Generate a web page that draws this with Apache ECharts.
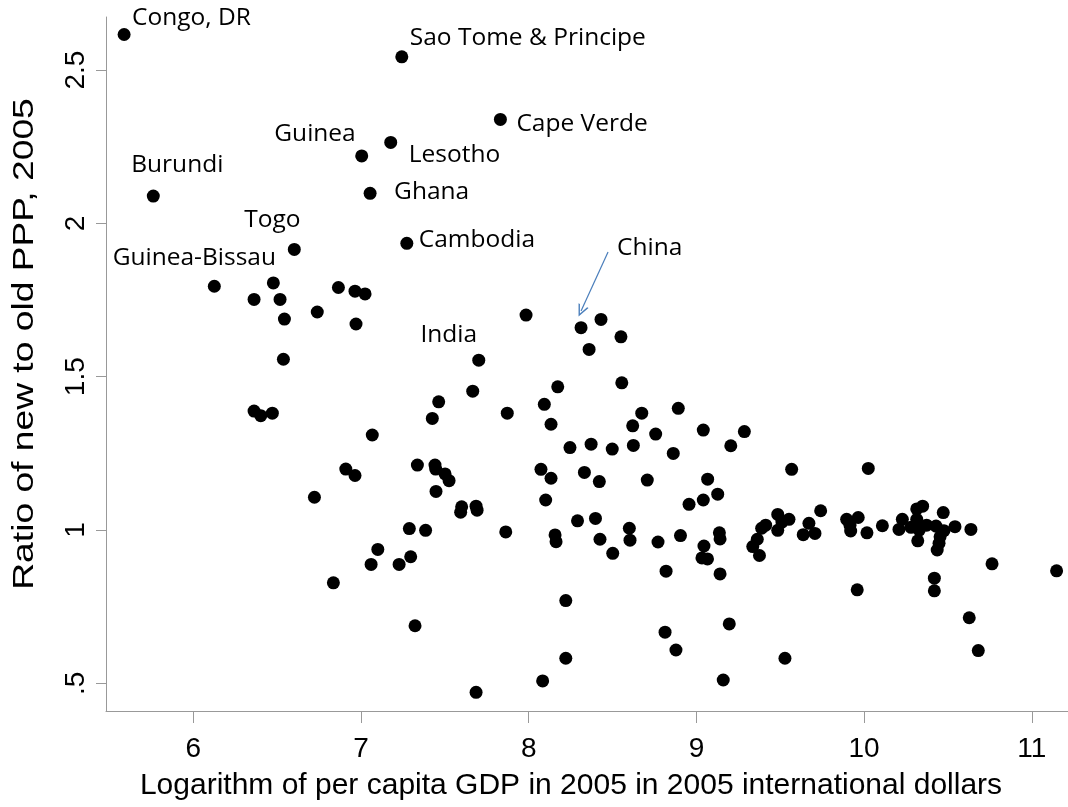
<!DOCTYPE html>
<html>
<head>
<meta charset="utf-8">
<script src="https://cdn.jsdelivr.net/npm/echarts@6/dist/echarts.min.js"></script>
<style>
	html, body { margin: 0; padding: 0; background: #fff; }
	#chart { width: 1068px; height: 807px; }
</style>
</head>
<body>
<div id="chart"></div>
<script>
// unlabeled countries: log GDP per capita (x) and new/old PPP ratio (y)
var gdpLog = [6.362, 6.402, 6.362, 6.471, 6.477, 6.517, 6.543, 6.537, 6.739, 6.722, 6.835, 6.865, 6.909, 6.964, 6.970, 6.964, 7.024, 7.067, 7.060, 7.100, 7.227, 7.288, 7.296, 7.322, 7.336, 7.385, 7.425, 7.441, 7.445, 7.447, 7.463, 7.501, 7.525, 7.600, 7.594, 7.666, 7.686, 7.692, 7.686, 7.863, 7.872, 7.984, 8.073, 8.083, 8.093, 8.101, 8.133, 8.133, 8.157, 8.163, 8.173, 8.221, 8.221, 8.246, 8.291, 8.332, 8.360, 8.372, 8.398, 8.421, 8.425, 8.431, 8.498, 8.501, 8.550, 8.555, 8.600, 8.604, 8.620, 8.624, 8.674, 8.707, 8.757, 8.771, 8.813, 8.819, 8.862, 8.878, 8.892, 8.905, 8.956, 9.041, 9.041, 9.045, 9.033, 9.066, 9.067, 9.127, 9.137, 9.141, 9.141, 9.160, 9.196, 9.205, 9.286, 9.336, 9.363, 9.376, 9.389, 9.413, 9.485, 9.485, 9.510, 9.528, 9.552, 9.568, 9.637, 9.671, 9.707, 9.741, 9.896, 9.916, 9.920, 9.959, 9.965, 10.017, 10.025, 10.109, 10.208, 10.228, 10.280, 10.314, 10.349, 10.314, 10.329, 10.320, 10.373, 10.429, 10.472, 10.476, 10.453, 10.447, 10.436, 10.419, 10.419, 10.542, 10.627, 10.637, 10.681, 10.763, 11.148];
var pppRatio = [1.752, 1.373, 1.388, 1.381, 1.806, 1.752, 1.688, 1.557, 1.711, 1.107, 0.828, 1.791, 1.199, 1.779, 1.672, 1.178, 1.770, 1.310, 0.888, 0.937, 0.888, 1.005, 0.913, 0.688, 1.212, 0.999, 1.364, 1.212, 1.199, 1.126, 1.418, 1.183, 1.161, 1.076, 1.058, 1.453, 1.078, 1.065, 0.471, 0.994, 1.381, 1.701, 1.198, 0.508, 1.410, 1.098, 1.345, 1.169, 0.984, 0.962, 1.467, 0.770, 0.582, 1.269, 1.030, 1.188, 1.589, 1.280, 1.038, 1.158, 0.970, 1.687, 1.264, 0.924, 1.630, 1.480, 1.006, 0.967, 1.340, 1.276, 1.381, 1.163, 1.313, 0.961, 0.667, 0.866, 1.250, 0.609, 1.397, 0.982, 1.084, 1.326, 1.098, 0.948, 0.909, 0.906, 1.166, 1.117, 0.991, 0.971, 0.857, 0.511, 0.694, 1.275, 1.321, 0.946, 0.970, 0.917, 1.006, 1.016, 1.051, 0.999, 1.026, 0.582, 1.035, 1.198, 0.985, 1.022, 0.989, 1.063, 1.035, 1.016, 0.997, 0.805, 1.041, 0.991, 1.201, 1.014, 1.002, 1.035, 1.009, 1.069, 1.078, 1.035, 1.000, 0.965, 1.016, 1.013, 1.057, 0.998, 0.978, 0.957, 0.935, 0.843, 0.802, 1.011, 0.714, 1.002, 0.607, 0.890, 0.867];

// labeled countries
var labelNames = ["Congo, DR", "Burundi", "Guinea-Bissau", "Togo", "Guinea", "Ghana", "Lesotho", "Sao Tome & Principe", "Cambodia", "India", "Cape Verde", "China"];
var labelGdp = [5.587, 5.761, 6.125, 6.602, 7.004, 7.054, 7.177, 7.243, 7.273, 7.702, 7.831, 8.312];
var labelRatio = [2.616, 2.089, 1.795, 1.915, 2.220, 2.098, 2.264, 2.543, 1.935, 1.554, 2.339, 1.660];

// arrow pointing at China (data coords)
var chinaArrow = [[8.473, 1.907], [8.312, 1.714]];

var xTicks = [6, 7, 8, 9, 10, 11];
var yTicks = [0.5, 1, 1.5, 2, 2.5];

var yTitle = "Ratio of new to old PPP, 2005";
var xTitle = "Logarithm of per capita GDP in 2005 in 2005 international dollars";

// where each label sits relative to its dot
var labelPlace = {
	"Congo, DR": { align: "left", offset: [8, -16] },
	"Sao Tome & Principe": { align: "left", offset: [8, -19] },
	"Cape Verde": { align: "left", offset: [16, 5] },
	"Lesotho": { align: "left", offset: [18, 13] },
	"Guinea": { align: "right", offset: [-6, -22] },
	"Ghana": { align: "left", offset: [24, -1] },
	"Cambodia": { align: "left", offset: [12, -3] },
	"Burundi": { align: "center", offset: [24, -31] },
	"Togo": { align: "center", offset: [-22, -29] },
	"Guinea-Bissau": { align: "center", offset: [-20, -28] },
	"India": { align: "center", offset: [-30, -25] },
	"China": { align: "left", offset: [36, -80] }
};

var chart = echarts.init(document.getElementById("chart"));

var points = [];
for (var i = 0; i < gdpLog.length; i++) {
	points.push([gdpLog[i], pppRatio[i]]);
}

var named = [];
for (var j = 0; j < labelNames.length; j++) {
	var place = labelPlace[labelNames[j]];
	named.push({
		name: labelNames[j],
		value: [labelGdp[j], labelRatio[j]],
		label: {
			show: true,
			position: "inside",
			formatter: "{b}",
			align: place.align,
			verticalAlign: "middle",
			offset: place.offset
		}
	});
}

var axisFont = "'Liberation Sans', Arial, sans-serif";

var option = {
	animation: false,
	backgroundColor: "#fff",
	grid: {
		left: 106,
		right: 0,
		top: 17,
		bottom: 96,
		containLabel: false
	},
	// y title is drawn stretched along its length, like the original
	graphic: [
		{
			type: "text",
			x: 25,
			y: 344,
			rotation: Math.PI / 2,
			scaleX: 1.24,
			style: {
				text: yTitle,
				font: "30px 'Liberation Sans', Arial, sans-serif",
				fill: "#000",
				align: "center",
				verticalAlign: "middle"
			}
		}
	],
	xAxis: {
		type: "value",
		min: 5.479,
		max: 11.216,
		name: xTitle,
		nameLocation: "middle",
		nameGap: 60,
		nameTextStyle: {
			fontSize: 30,
			color: "#000",
			fontFamily: axisFont,
			padding: [0, 32, 0, 0]
		},
		splitLine: { show: false },
		axisLine: {
			onZero: false,
			lineStyle: { color: "#999", width: 1 }
		},
		axisTick: {
			show: true,
			length: 12,
			customValues: xTicks,
			lineStyle: { color: "#999" }
		},
		axisLabel: {
			customValues: xTicks,
			fontSize: 28,
			color: "#000",
			fontFamily: axisFont,
			margin: 24
		}
	},
	yAxis: {
		type: "value",
		min: 0.410,
		max: 2.673,
		splitLine: { show: false },
		axisLine: {
			show: true,
			onZero: false,
			lineStyle: { color: "#999", width: 1 }
		},
		axisTick: {
			show: true,
			length: 10,
			customValues: yTicks,
			lineStyle: { color: "#999" }
		},
		axisLabel: {
			customValues: yTicks,
			rotate: 90,
			fontSize: 28,
			color: "#000",
			fontFamily: axisFont,
			margin: 16,
			formatter: function (v) {
				return v == 0.5 ? ".5" : String(v);
			}
		}
	},
	series: [
		{
			type: "scatter",
			symbolSize: 13,
			itemStyle: { color: "#000", opacity: 1 },
			data: points
		},
		{
			type: "scatter",
			symbolSize: 13,
			itemStyle: { color: "#000", opacity: 1 },
			label: {
				fontSize: 24.5,
				color: "#000",
				opacity: 1,
				fontFamily: "'Open Sans', sans-serif"
			},
			data: named,
			markLine: {
				silent: true,
				symbol: ["none", "path://M5,0 L10,11 L8.6,11 L5,3 L1.4,11 L0,11 Z"],
				symbolSize: [11, 12],
				label: { show: false },
				lineStyle: { color: "#4a7ebb", width: 1.2, type: "solid", opacity: 1 },
				data: [[
					{ coord: chinaArrow[0] },
					{ coord: chinaArrow[1] }
				]]
			}
		}
	]
};

chart.setOption(option);
</script>
</body>
</html>
